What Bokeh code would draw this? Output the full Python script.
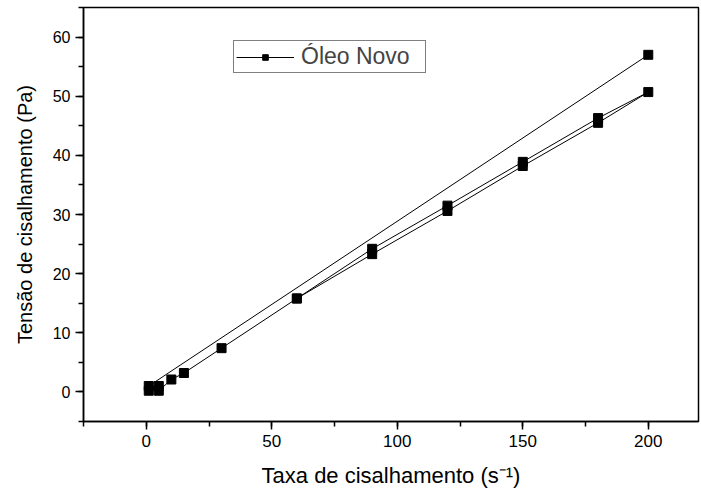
from bokeh.plotting import figure
from bokeh.models import Range1d, SingleIntervalTicker, Legend, LegendItem
from bokeh.embed import file_html
from bokeh.resources import INLINE

# Shear rate (s^-1) and shear stress (Pa), in measurement/plot order
shear_rate = [200, 1, 5, 1, 5, 10, 15, 30, 60, 90, 120, 150, 180, 200, 180, 150, 120, 90, 60]
shear_stress = [57.0, 1.0, 1.0, 0.2, 0.2, 2.1, 3.2, 7.4, 15.8, 23.3, 30.6, 38.2, 45.5, 50.7, 46.3, 38.9, 31.5, 24.2, 15.8]
series_name = "Óleo Novo"
x_title = "Taxa de cisalhamento (s⁻¹)"
y_title = "Tensão de cisalhamento (Pa)"

FONT = "Liberation Sans"

p = figure(width=701, height=490, x_range=Range1d(-25, 220), y_range=Range1d(-5, 65),
           output_backend="svg", toolbar_location=None,
           min_border_left=83, min_border_right=3, min_border_top=7, min_border_bottom=10)
p.outline_line_color = "black"
p.outline_line_width = 1.5
p.xgrid.visible = False
p.ygrid.visible = False
p.background_fill_color = "white"
p.border_fill_color = "white"

line_r = p.line(shear_rate, shear_stress, line_color="black", line_width=1)
pts_r = p.scatter(shear_rate, shear_stress, marker="square", size=9,
                  fill_color="black", line_color="black")

for ax, interval, lsize, tsize in ((p.xaxis[0], 50, "17px", "22px"), (p.yaxis[0], 10, "16px", "20px")):
    ax.ticker = SingleIntervalTicker(interval=interval, num_minor_ticks=2)
    ax.axis_line_width = 1.5
    ax.major_tick_line_width = 1.5
    ax.minor_tick_line_width = 1.5
    ax.major_tick_out = 8
    ax.major_tick_in = 0
    ax.minor_tick_out = 5
    ax.minor_tick_in = 0
    ax.major_label_text_font = FONT
    ax.major_label_text_font_size = lsize
    ax.major_label_text_color = "black"
    ax.axis_label_text_font = FONT
    ax.axis_label_text_font_size = tsize
    ax.axis_label_text_font_style = "normal"
    ax.axis_label_text_color = "black"
    ax.major_label_standoff = 5

p.xaxis.axis_label = x_title
p.yaxis.axis_label = y_title
p.xaxis.axis_label_standoff = 13
p.yaxis.axis_label_standoff = 14

legend = Legend(items=[LegendItem(label=series_name, renderers=[line_r, pts_r])],
                location=(150, 348), glyph_width=58, glyph_height=14, label_standoff=7,
                label_width=122, padding=2, spacing=0, margin=0,
                label_text_font=FONT, label_text_font_size="23px",
                border_line_color="black", border_line_width=1,
                background_fill_color="white", background_fill_alpha=1)
p.add_layout(legend)

open("out.html", "w").write(file_html(p, INLINE))
